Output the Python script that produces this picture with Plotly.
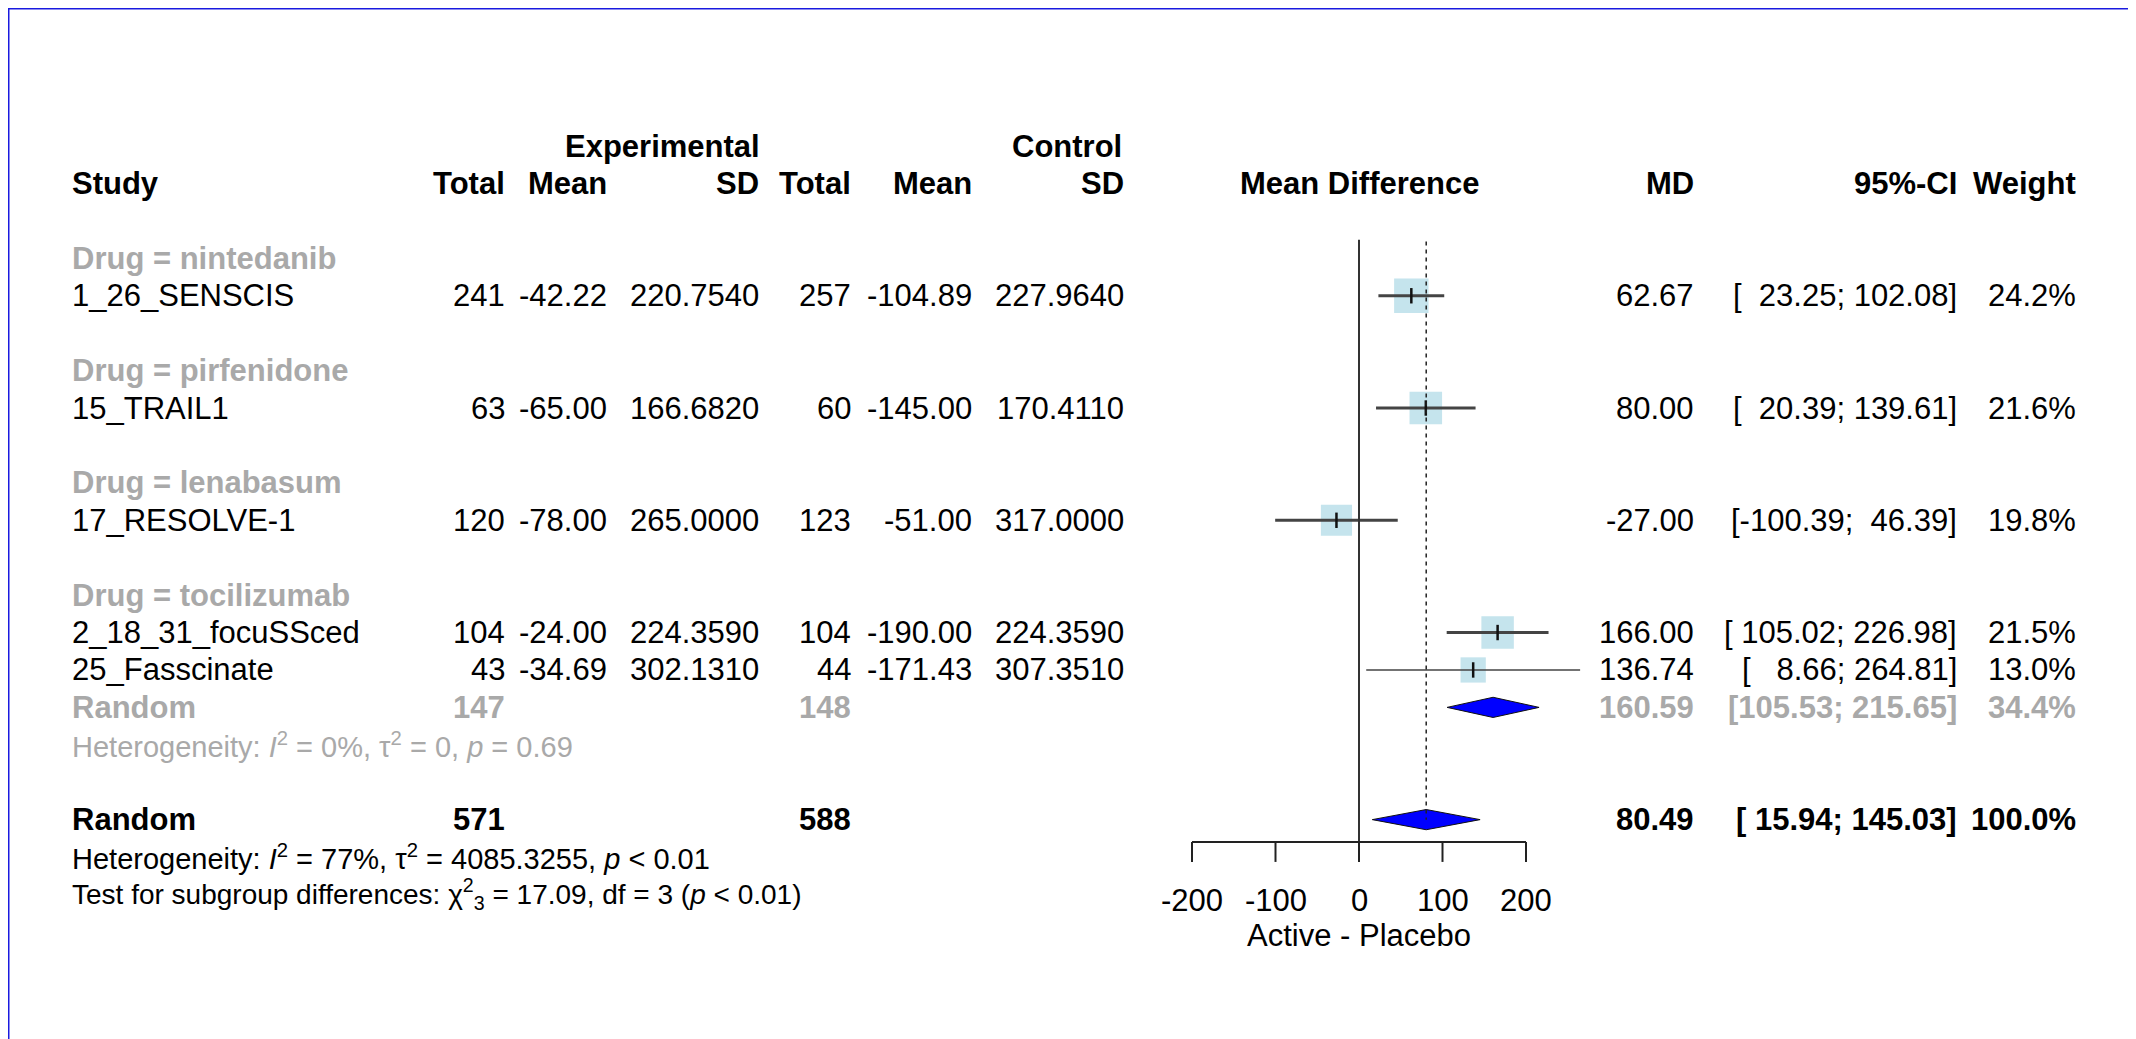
import plotly.graph_objects as go
import math

# ---------------- data ----------------
studies = ["1_26_SENSCIS", "15_TRAIL1", "17_RESOLVE-1", "2_18_31_focuSSced", "25_Fasscinate"]
drug = ["nintedanib", "pirfenidone", "lenabasum", "tocilizumab", "tocilizumab"]
exp_total = [241, 63, 120, 104, 43]
exp_mean = [-42.22, -65.00, -78.00, -24.00, -34.69]
exp_sd = [220.7540, 166.6820, 265.0000, 224.3590, 302.1310]
ctrl_total = [257, 60, 123, 104, 44]
ctrl_mean = [-104.89, -145.00, -51.00, -190.00, -171.43]
ctrl_sd = [227.9640, 170.4110, 317.0000, 224.3590, 307.3510]
md = [62.67, 80.00, -27.00, 166.00, 136.74]
ci_lo = [23.25, 20.39, -100.39, 105.02, 8.66]
ci_hi = [102.08, 139.61, 46.39, 226.98, 264.81]
weight = [24.2, 21.6, 19.8, 21.5, 13.0]

# subgroup summary (tocilizumab)
sub_drug = "tocilizumab"
sub_exp_total = 147
sub_ctrl_total = 148
sub_md = 160.59
sub_lo = 105.53
sub_hi = 215.65
sub_weight = 34.4
sub_het = "Heterogeneity: <i>I</i><sup>2</sup> = 0%, τ<sup>2</sup> = 0, <i>p</i> = 0.69"

# overall
all_exp_total = 571
all_ctrl_total = 588
all_md = 80.49
all_lo = 15.94
all_hi = 145.03
all_weight = 100.0
all_het = "Heterogeneity: <i>I</i><sup>2</sup> = 77%, τ<sup>2</sup> = 4085.3255, <i>p</i> &lt; 0.01"
test_sub = "Test for subgroup differences: χ<sup>2</sup><sub>3</sub> = 17.09, df = 3 (<i>p</i> &lt; 0.01)"

x_ticks = [-200, -100, 0, 100, 200]
x_label = "Active - Placebo"

# ---------------- layout constants ----------------
W, H = 2136, 1039
FONT = "Liberation Sans, Arial, Helvetica, sans-serif"
FS = 31
FS_HET = 29
FS_TEST = 28
GRAY = "#A9A9A9"
ROW0_PX = 175.5       # pixel y of header row
ROW_PX = 37.42        # pixels per row
X0_PX = 1351.0        # pixel x of MD = 0
XSCALE = 0.835        # pixels per MD unit

x_range = [-X0_PX / XSCALE, (W - X0_PX) / XSCALE]
y_range = [(H - ROW0_PX) / ROW_PX, -ROW0_PX / ROW_PX]

NB = "\u00a0"


def fmt_ci(lo, hi, wlo=6, whi=6):
    return ("[" + f"{lo:{wlo}.2f}" + "; " + f"{hi:{whi}.2f}" + "]").replace(" ", NB)


# column edges (px)
COL = dict(study=62, etot=499, emean=601, esd=753, ctot=845, cmean=966, csd=1118,
           md=1688, ci=1951, w=2070)

fig = go.Figure()
ann = []


def txt(x_px, row, text, anchor="right", bold=False, color="black", size=FS):
    t = f"<b>{text}</b>" if bold else text
    ann.append(dict(x=x_px / W, xref="paper", y=row, yref="y", text=t, showarrow=False,
                    xanchor=anchor, yanchor="middle",
                    font=dict(family=FONT, size=size, color=color)))


# headers
txt(754, -1, "Experimental", bold=True)
txt(1116, -1, "Control", bold=True)
txt(COL["study"], 0, "Study", anchor="left", bold=True)
txt(COL["etot"], 0, "Total", bold=True)
txt(COL["emean"], 0, "Mean", bold=True)
txt(COL["esd"], 0, "SD", bold=True)
txt(COL["ctot"], 0, "Total", bold=True)
txt(COL["cmean"], 0, "Mean", bold=True)
txt(COL["csd"], 0, "SD", bold=True)
txt(X0_PX, 0, "Mean Difference", anchor="center", bold=True)
txt(COL["md"], 0, "MD", bold=True)
txt(COL["ci"], 0, "95%-CI", bold=True)
txt(COL["w"], 0, "Weight", bold=True)

# assign rows: blank row after header, blank row between subgroups
rows = []
row = 1
prev = None
sub_row = None
for i, d in enumerate(drug):
    if d != prev:
        if prev is not None:
            row += 1  # blank separator
        row += 1
        txt(COL["study"], row, f"Drug = {d}", anchor="left", bold=True, color=GRAY)
        prev = d
    row += 1
    rows.append(row)
    txt(COL["study"], row, studies[i], anchor="left")
    txt(COL["etot"], row, f"{exp_total[i]}")
    txt(COL["emean"], row, f"{exp_mean[i]:.2f}")
    txt(COL["esd"], row, f"{exp_sd[i]:.4f}")
    txt(COL["ctot"], row, f"{ctrl_total[i]}")
    txt(COL["cmean"], row, f"{ctrl_mean[i]:.2f}")
    txt(COL["csd"], row, f"{ctrl_sd[i]:.4f}")
    txt(COL["md"], row, f"{md[i]:.2f}")
    txt(COL["ci"], row, fmt_ci(ci_lo[i], ci_hi[i], 7, 6))
    txt(COL["w"], row, f"{weight[i]:.1f}%")
    is_last_of_group = (i == len(drug) - 1) or (drug[i + 1] != d)
    if is_last_of_group and d == sub_drug:
        row += 1
        sub_row = row
        txt(COL["study"], row, "Random", anchor="left", bold=True, color=GRAY)
        txt(COL["etot"], row, f"{sub_exp_total}", bold=True, color=GRAY)
        txt(COL["ctot"], row, f"{sub_ctrl_total}", bold=True, color=GRAY)
        txt(COL["md"], row, f"{sub_md:.2f}", bold=True, color=GRAY)
        txt(COL["ci"], row, fmt_ci(sub_lo, sub_hi), bold=True, color=GRAY)
        txt(COL["w"], row, f"{sub_weight:.1f}%", bold=True, color=GRAY)
        row += 1
        txt(COL["study"], row, sub_het, anchor="left", color=GRAY, size=FS_HET)

row += 2
all_row = row
txt(COL["study"], row, "Random", anchor="left", bold=True)
txt(COL["etot"], row, f"{all_exp_total}", bold=True)
txt(COL["ctot"], row, f"{all_ctrl_total}", bold=True)
txt(COL["md"], row, f"{all_md:.2f}", bold=True)
txt(COL["ci"], row, fmt_ci(all_lo, all_hi), bold=True)
txt(COL["w"], row, f"{all_weight:.1f}%", bold=True)
row += 1
txt(COL["study"], row, all_het, anchor="left", size=FS_HET)
row += 1
txt(COL["study"], row, test_sub, anchor="left", size=FS_TEST)

# ---------------- forest graphics ----------------
top_row = 1.5
axis_row = all_row + 0.6
tick_len = 0.53
shapes = []
shapes.append(dict(type="line", xref="x", yref="y", x0=0, x1=0, y0=top_row, y1=axis_row,
                   line=dict(color="#333333", width=2)))
shapes.append(dict(type="line", xref="x", yref="y", x0=all_md, x1=all_md, y0=top_row + 0.05, y1=all_row,
                   line=dict(color="#222222", width=1.5, dash="4px,4px")))
shapes.append(dict(type="line", xref="x", yref="y", x0=x_ticks[0], x1=x_ticks[-1], y0=axis_row, y1=axis_row,
                   line=dict(color="#222222", width=2)))
for t in x_ticks:
    shapes.append(dict(type="line", xref="x", yref="y", x0=t, x1=t, y0=axis_row, y1=axis_row + tick_len,
                       line=dict(color="#222222", width=2)))
    ann.append(dict(x=t, xref="x", y=axis_row + 1.55, yref="y", text=f"{t}", showarrow=False,
                    xanchor="center", yanchor="middle", font=dict(family=FONT, size=FS, color="black")))
ann.append(dict(x=0, xref="x", y=axis_row + 2.5, yref="y", text=x_label, showarrow=False,
                xanchor="center", yanchor="middle", font=dict(family=FONT, size=FS, color="black")))

shapes.append(dict(type="rect", xref="paper", yref="paper", x0=0, x1=1, y0=0, y1=1,
                   line=dict(color="#1a1adf", width=3)))

# squares, CI lines, point ticks
line_widths = [3, 3, 3, 3, 1.6]
fig.add_trace(go.Scatter(x=md, y=rows, mode="markers",
                         marker=dict(symbol="square", color="#ADD8E6",
                                     size=[7.0 * math.sqrt(w) for w in weight], line=dict(width=0)),
                         hoverinfo="skip", showlegend=False))
for i in range(len(md)):
    fig.add_trace(go.Scatter(x=[ci_lo[i], ci_hi[i]], y=[rows[i], rows[i]], mode="lines",
                             line=dict(color="#444444", width=line_widths[i]),
                             hoverinfo="skip", showlegend=False))
fig.add_trace(go.Scatter(x=md, y=rows, mode="markers",
                         marker=dict(symbol="line-ns", size=11, line=dict(color="#111111", width=2.5)),
                         hoverinfo="skip", showlegend=False))

DH = 0.27
for (m, lo, hi, r) in [(sub_md, sub_lo, sub_hi, sub_row), (all_md, all_lo, all_hi, all_row)]:
    fig.add_trace(go.Scatter(x=[lo, m, hi, m, lo], y=[r, r - DH, r, r + DH, r], mode="lines",
                             fill="toself", fillcolor="#0000FF", line=dict(color="#111111", width=1),
                             hoverinfo="skip", showlegend=False))

fig.update_layout(
    width=W, height=H, margin=dict(l=0, r=0, t=0, b=0, pad=0),
    paper_bgcolor="white", plot_bgcolor="white",
    xaxis=dict(range=x_range, visible=False, fixedrange=True),
    yaxis=dict(range=y_range, visible=False, fixedrange=True),
    annotations=ann, shapes=shapes, showlegend=False,
)
fig.write_html("out.html")
